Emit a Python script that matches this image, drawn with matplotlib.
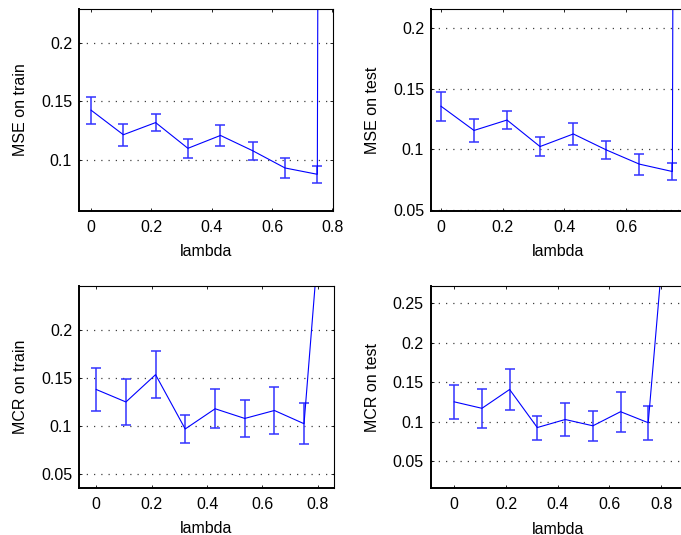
import matplotlib.pyplot as plt
from matplotlib.ticker import FormatStrFormatter

plt.rcParams['font.family'] = ['Liberation Sans', 'DejaVu Sans']
plt.rcParams['font.size'] = 11.5

# lambda values (last one runs off the top of each panel)
lambdas = [0, 0.107, 0.214, 0.321, 0.429, 0.536, 0.643, 0.75, 0.857]

mse_train = [0.1423, 0.1213, 0.1317, 0.1097, 0.1207, 0.1076, 0.0929, 0.0875, 10.0]
mse_train_err = [0.0115, 0.0093, 0.0072, 0.0082, 0.0087, 0.0079, 0.0088, 0.0074, 0.0]

mse_test = [0.1357, 0.1157, 0.1243, 0.1024, 0.1128, 0.0996, 0.0879, 0.0818, 10.0]
mse_test_err = [0.0121, 0.0097, 0.0078, 0.0082, 0.0089, 0.0076, 0.0086, 0.0072, 0.0]

mcr_train = [0.1382, 0.1252, 0.1537, 0.0970, 0.1181, 0.1080, 0.1163, 0.1025, 0.49]
mcr_train_err = [0.0223, 0.0239, 0.0246, 0.0148, 0.0202, 0.0195, 0.0247, 0.0216, 0.0]

mcr_test = [0.1250, 0.1168, 0.1407, 0.0924, 0.1026, 0.0946, 0.1125, 0.0985, 0.51]
mcr_test_err = [0.0220, 0.0248, 0.0262, 0.0152, 0.0211, 0.0191, 0.0252, 0.0214, 0.0]

ylabels = ['MSE on train', 'MSE on test', 'MCR on train', 'MCR on test']
yticks = [[0.1, 0.15, 0.2],
          [0.05, 0.1, 0.15, 0.2],
          [0.05, 0.1, 0.15, 0.2],
          [0.05, 0.1, 0.15, 0.2, 0.25]]
# top-right panel is cropped before 0.8
xticks = [[0, 0.2, 0.4, 0.6, 0.8],
          [0, 0.2, 0.4, 0.6],
          [0, 0.2, 0.4, 0.6, 0.8],
          [0, 0.2, 0.4, 0.6, 0.8]]

fig = plt.figure(figsize=(6.81, 5.35), dpi=100)

# axes boxes in figure fraction, limits
boxes = [[0.116, 0.6062, 0.373, 0.3764],
         [0.6329, 0.6056, 0.373, 0.377],
         [0.116, 0.0879, 0.3744, 0.3781],
         [0.6324, 0.0873, 0.3734, 0.3781]]
xlims = [(-0.040, 0.802), (-0.0324, 0.791), (-0.0624, 0.858), (-0.0913, 0.892)]
ylims = [(0.0564, 0.2285), (0.0492, 0.2157), (0.0354, 0.2466), (0.0153, 0.272)]

series = [(mse_train, mse_train_err), (mse_test, mse_test_err),
          (mcr_train, mcr_train_err), (mcr_test, mcr_test_err)]

for i in range(4):
    ax = fig.add_axes(boxes[i])
    vals, errs = series[i]
    ax.errorbar(lambdas, vals, yerr=errs, color='blue', ecolor=(0.2, 0.2, 1.0),
                linewidth=0.8, elinewidth=1.1, capsize=3.5, capthick=1.1)

    ax.set_xlim(xlims[i])
    ax.set_ylim(ylims[i])
    ax.set_xticks(xticks[i])
    ax.set_yticks(yticks[i])
    ax.xaxis.set_major_formatter(FormatStrFormatter('%g'))
    ax.yaxis.set_major_formatter(FormatStrFormatter('%g'))

    # dotted horizontal grid only
    ax.yaxis.grid(True, color='0.25', linestyle=(0, (1, 4.8)), linewidth=0.9)
    ax.set_axisbelow(True)

    ax.tick_params(direction='in', top=True, right=True, length=2.5, width=0.6)
    ax.tick_params(axis='x', pad=6.5)
    ax.tick_params(axis='y', pad=5)

    for side in ['left', 'bottom']:
        ax.spines[side].set_linewidth(1.4)
    for side in ['top', 'right']:
        ax.spines[side].set_linewidth(0.8)

    ax.set_xlabel('lambda')
    ax.set_ylabel(ylabels[i])
    ax.xaxis.set_label_coords(0.5, -0.165)
    ax.yaxis.set_label_coords(-0.20, 0.5)

plt.savefig('out.png', dpi=100)
